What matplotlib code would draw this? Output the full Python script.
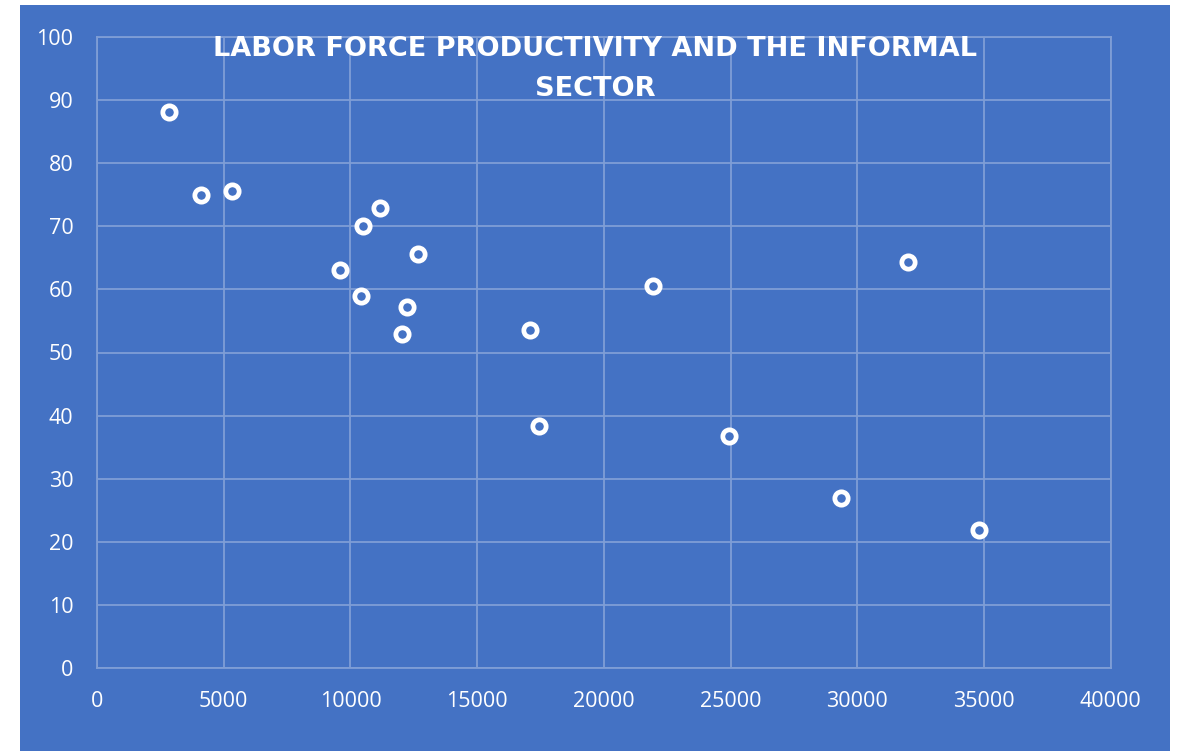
import matplotlib.pyplot as plt
from matplotlib.patches import Rectangle

# Labor productivity vs. informal sector share
productivity = [2850, 4100, 5330, 9590, 10490, 11160, 10410, 12230, 12030,
                12660, 17080, 17440, 21930, 24930, 29350, 31990, 34790]
informal = [88.0, 75.0, 75.6, 63.0, 70.0, 72.8, 59.0, 57.2, 53.0,
            65.6, 53.6, 38.3, 60.6, 36.8, 27.0, 64.4, 21.9]

x_ticks = list(range(0, 40001, 5000))
y_ticks = list(range(0, 101, 10))

blue = '#4472C4'
grid_col = '#7F9ED6'

plt.rcParams['font.family'] = ['Open Sans', 'DejaVu Sans']

fig = plt.figure(figsize=(11.84, 7.51), dpi=100)
fig.patch.set_facecolor('white')

# blue chart area, slightly inset from the image edges
W, H = 1184, 751
fig.add_artist(Rectangle((20 / W, 0), 1150 / W, 746 / H,
                         transform=fig.transFigure, facecolor=blue,
                         edgecolor='none', zorder=-10))

ax = fig.add_axes([97 / W, 1 - 668.3 / H, (1110.7 - 97) / W, (668.3 - 36.7) / H])
ax.set_zorder(1)
ax.patch.set_alpha(0)

ax.plot(productivity, informal, linestyle='none', marker='o',
        markersize=9.6, markeredgewidth=3.4, markeredgecolor='white',
        markerfacecolor=blue, zorder=3, clip_on=False)

ax.set_xlim(0, 40000)
ax.set_ylim(0, 100)
ax.set_xticks(x_ticks)
ax.set_yticks(y_ticks)
ax.grid(True, color=grid_col, linewidth=1.3)
ax.set_axisbelow(True)
for s in ax.spines.values():
    s.set_color(grid_col)
    s.set_linewidth(1.3)
ax.tick_params(length=0, colors='white', labelsize=15.5)
ax.tick_params(axis='x', pad=16)
ax.tick_params(axis='y', pad=17)

fig.text(595 / W, 1 - 69 / H, 'LABOR FORCE PRODUCTIVITY AND THE INFORMAL\nSECTOR',
         ha='center', va='center', color='white', fontsize=19.5,
         family='DejaVu Sans', fontweight='bold', linespacing=1.65, zorder=5)

fig.savefig('out.png', dpi=100)
